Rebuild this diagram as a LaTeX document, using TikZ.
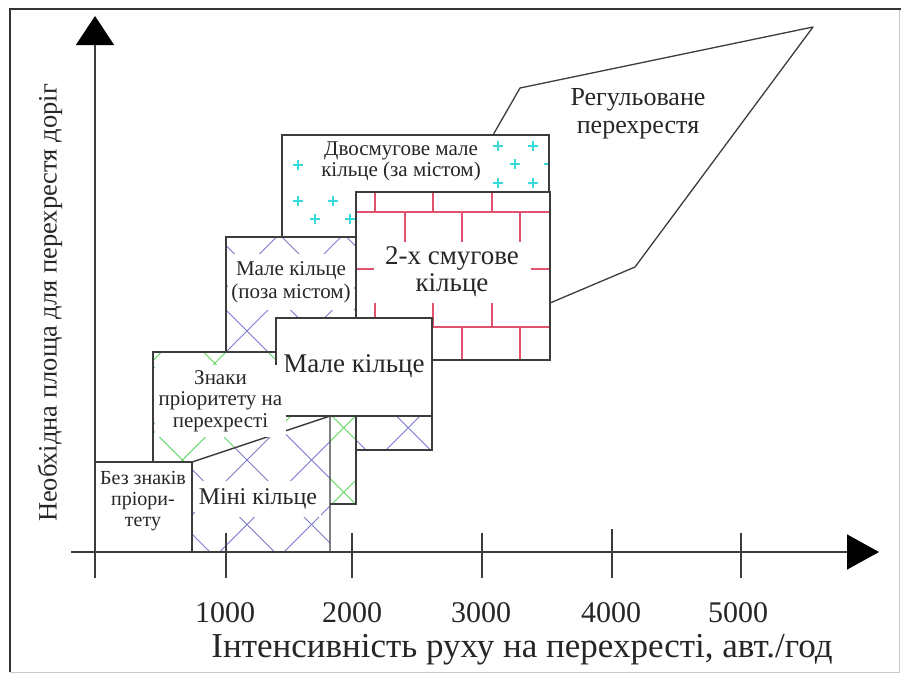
\documentclass[tikz,border=0pt]{standalone}
\usepackage{fontspec}
\setmainfont{Liberation Serif}
\usetikzlibrary{arrows.meta}
\definecolor{edgegray}{HTML}{3C3C3C}
\definecolor{framegray}{HTML}{333333}
\definecolor{framelight}{HTML}{C8CAD4}
\definecolor{hatchblue}{HTML}{7C7ACC}
\definecolor{hatchgreen}{HTML}{5ED85E}
\definecolor{pluscyan}{HTML}{3ADADA}
\definecolor{brickred}{HTML}{E0526E}
\newcommand\fsz[2]{\fontsize{#1}{#2}\selectfont}
\newcommand\myhatch[1]{%
  \foreach \k in {-7,...,9}{%
    \draw[#1] (0,{213-64.5*\k}) -- (900,{1113-64.5*\k});
    \draw[#1] (0,{707+64.5*\k}) -- (900,{-193+64.5*\k});
  }}
\begin{document}
\begin{tikzpicture}[x=1pt,y=-1pt,
  boxline/.style={draw=edgegray,line width=1.4pt},
  axisline/.style={draw=edgegray,line width=1.3pt},
  bluehatch/.style={draw=hatchblue,line width=1pt},
  greenhatch/.style={draw=hatchgreen,line width=1pt},
  plusline/.style={draw=pluscyan,line width=1.1pt},
  brickline/.style={draw=brickred,line width=1.1pt},
  label/.style={inner sep=0pt,align=center,text=black!85},
  whitelabel/.style={label,fill=white}]
\useasboundingbox (0,0) rectangle (901,673);
% frame
\draw[framelight,line width=1pt] (899,9) -- (899,672) -- (10,672);
\draw[framegray,line width=2.6pt] (10,672) -- (10,9) -- (901,9);

% regulated intersection polygon
\coordinate (r1) at (493,135);
\coordinate (r2) at (520,88);
\coordinate (r3) at (813,27);
\coordinate (r4) at (635,267);
\coordinate (r5) at (550,303);
\draw[axisline,line join=round] (r1) -- (r2) -- (r3) -- (r4) -- (r5);
\node[label,font=\fsz{26}{28}] (treg) at (638,114) {Регульоване\\перехрестя};

% two-lane small roundabout (rural)
\begin{scope}
  \clip (282,135) rectangle (549,237);
  \fill[white] (282,135) rectangle (549,237);
  \foreach \p in {(298,165),(298,201),(333,201),(315,219),(350,219),(498,146),(533,146),(515,164),(549,164),(498,183),(533,183)}
    \draw[plusline] \p +(-5,0) -- +(5,0) \p +(0,-5) -- +(0,5);
\end{scope}
\draw[boxline] (282,237) -- (282,135) -- (549,135) -- (549,192);

% small roundabout (rural)
\begin{scope}
  \clip (226,237) rectangle (432,450);
  \fill[white] (226,237) rectangle (432,450);
  \myhatch{bluehatch}
\end{scope}
\draw[boxline] (226,237) rectangle (432,450);
\node[whitelabel,font=\fsz{21}{23},minimum width=126pt,minimum height=56pt] (tpoza) at (291,282) {Мале кільце\\(поза містом)};

% two-lane roundabout
\fill[white] (356,192) rectangle (550,360);
\draw[brickline] (356,212) -- (550,212) (356,269) -- (550,269) (356,327) -- (550,327);
\foreach \x in {375,433,492} {
  \draw[brickline] (\x,192) -- (\x,212);
  \draw[brickline] (\x,269) -- (\x,327);
}
\foreach \x in {405,462,520} {
  \draw[brickline] (\x,212) -- (\x,269);
  \draw[brickline] (\x,327) -- (\x,360);
}
\draw[boxline] (356,192) rectangle (550,360);
\node[whitelabel,font=\fsz{27}{27},minimum width=157pt,minimum height=61pt] (ttwo) at (452,272) {2-х смугове\\кільце};

% two-lane text over the plus box
\node[whitelabel,font=\fsz{21}{21},minimum width=178pt,minimum height=42pt] (tdvo) at (401,161) {Двосмугове мале\\кільце (за містом)};

% priority signs
\begin{scope}
  \clip (153,352) rectangle (356,504);
  \fill[white] (153,352) rectangle (356,504);
  \myhatch{greenhatch}
\end{scope}
\draw[boxline] (153,352) rectangle (356,504);

% mini roundabout
\coordinate (m1) at (192,552);
\coordinate (m2) at (192,462);
\coordinate (m3) at (330,416);
\coordinate (m4) at (330,552);
\begin{scope}
  \clip (m1) -- (m2) -- (m3) -- (m4) -- cycle;
  \fill[white] (m1) -- (m2) -- (m3) -- (m4) -- cycle;
  \myhatch{bluehatch}
\end{scope}
\draw[boxline,line join=round] (m1) -- (m2) -- (m3) -- (m4) -- cycle;
\node[whitelabel,font=\fsz{24}{24},minimum width=126pt,minimum height=36pt] (tmini) at (258,499) {Міні кільце};

% no priority signs
\draw[boxline,fill=white] (95,462) rectangle (192,552);
\node[label,font=\fsz{20}{21}] (tbez) at (143,501) {Без знаків\\пріори-\\тету};

% small roundabout
\draw[boxline,fill=white] (276,318) rectangle (432,416);
\node[label,font=\fsz{27}{27}] (tmale) at (354,366) {Мале кільце};

% priority signs text
\node[whitelabel,font=\fsz{21}{21.5},minimum width=131pt,minimum height=72pt] (tznak) at (220.5,401) {Знаки\\пріоритету на\\перехресті};

% axes
\coordinate (xs) at (71,552);
\coordinate (xe) at (879,552);
\coordinate (ys) at (95,578);
\coordinate (ye) at (95,16);
\draw[axisline,-{Triangle[length=32pt,width=35pt,color=black]}] (xs) -- (xe);
\draw[axisline,-{Triangle[length=29pt,width=38pt,color=black]}] (ys) -- (ye);
\foreach \x/\t in {226/533,352/533,482/533,612/529,741/533}
  \draw[axisline] (\x,\t) -- (\x,578);
\node[label,font=\fsz{30}{30}] (l1) at (225,613) {1000};
\node[label,font=\fsz{30}{30}] (l2) at (352,613) {2000};
\node[label,font=\fsz{30}{30}] (l3) at (481,613) {3000};
\node[label,font=\fsz{30}{30}] (l4) at (611,613) {4000};
\node[label,font=\fsz{30}{30}] (l5) at (738,613) {5000};
\node[label,font=\fsz{35}{35}] (xtitle) at (522,650) {Інтенсивність руху на перехресті, авт./год};
\node[label,rotate=90,font=\fsz{26.5}{27}] (ytitle) at (50,303) {Необхідна площа для перехрестя доріг};
\end{tikzpicture}
\end{document}
